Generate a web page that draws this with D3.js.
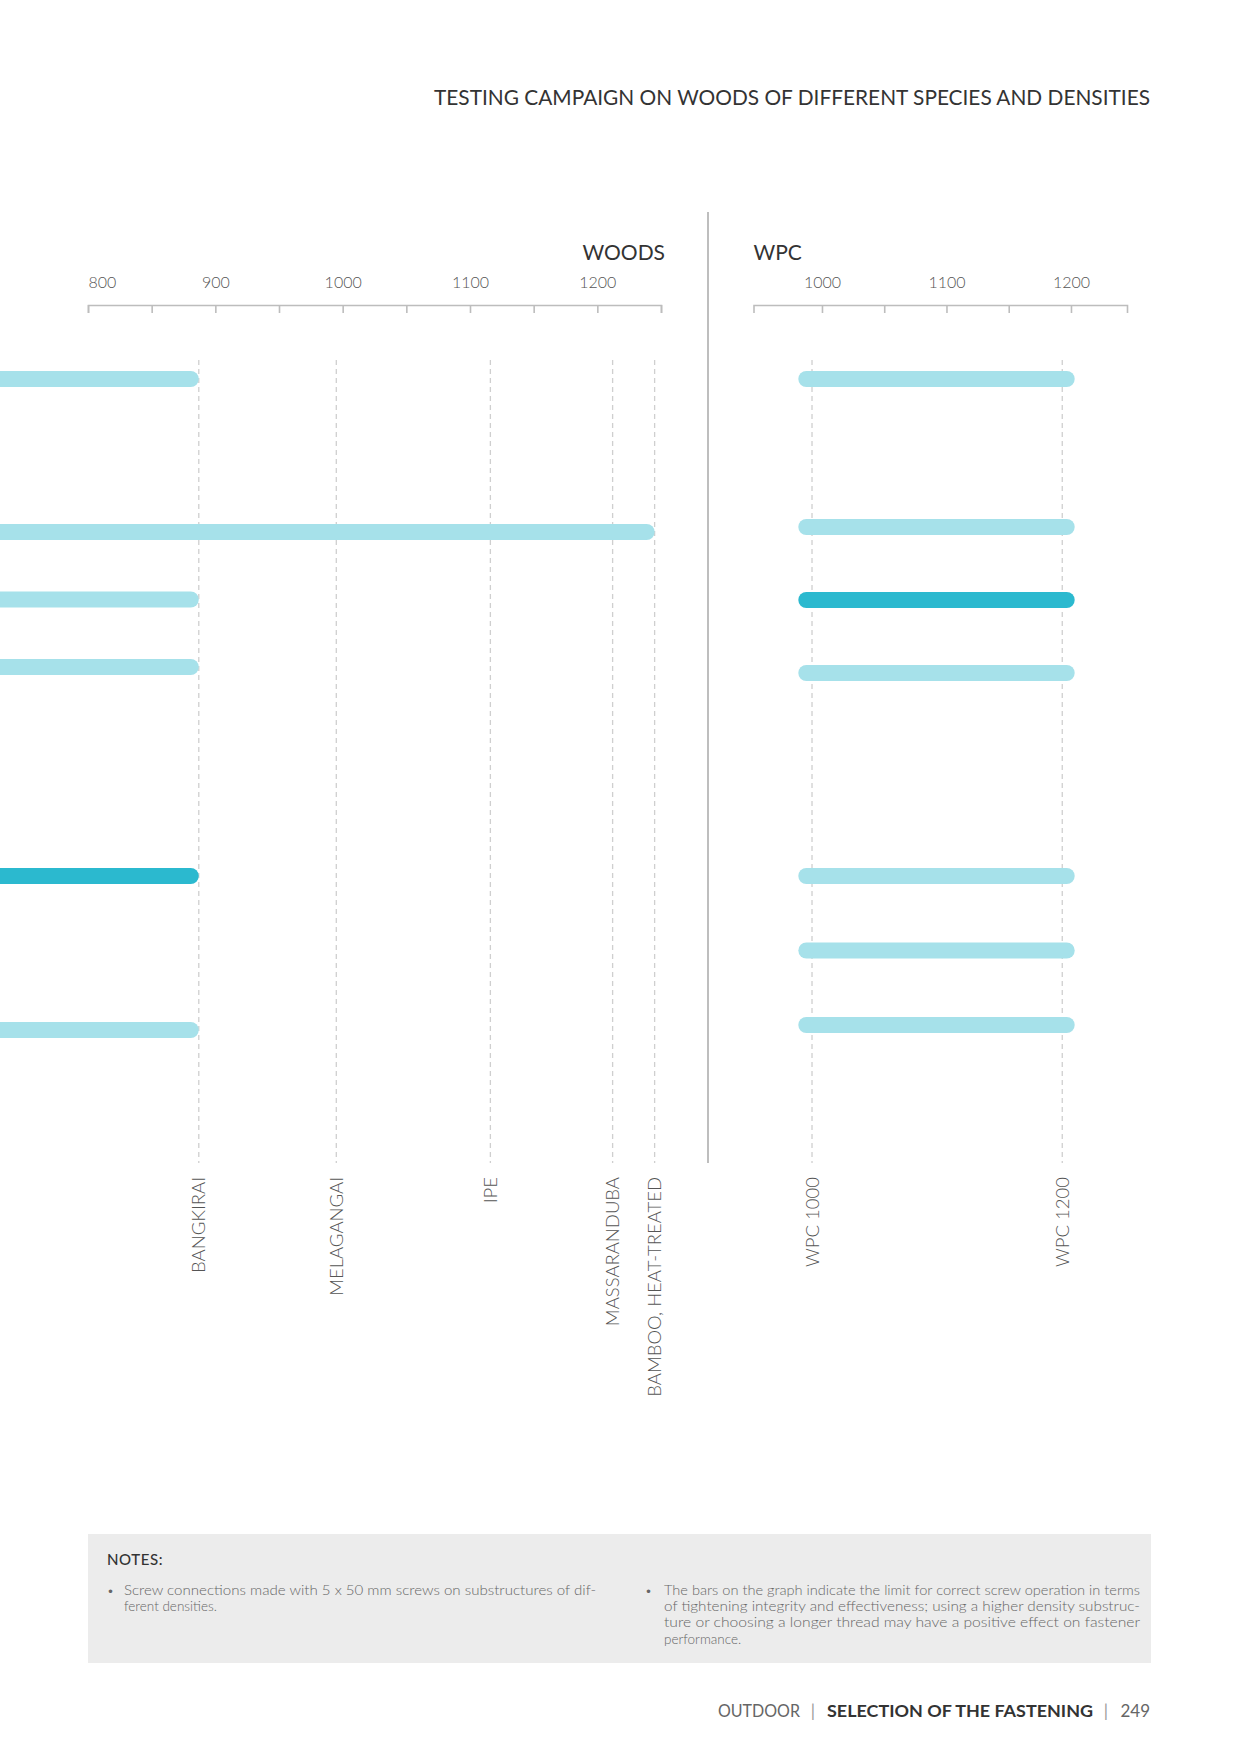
<!DOCTYPE html>
<html>
<head>
<meta charset="utf-8">
<script src="https://cdn.jsdelivr.net/npm/d3@7"></script>
<style>
  html, body { margin: 0; padding: 0; background: #ffffff; }
  svg { display: block; }
  text { font-family: Lato, "Open Sans", sans-serif; }
</style>
</head>
<body>
<svg id="chart" width="1240" height="1754"></svg>
<script>
// ---------------- DATA ----------------
const titleText = "TESTING CAMPAIGN ON WOODS OF DIFFERENT SPECIES AND DENSITIES";

// Woods panel
const woodsTicks = [800, 850, 900, 950, 1000, 1050, 1100, 1150, 1200, 1250];
const woodsTickLabels = [800, 900, 1000, 1100, 1200];
const woodSpecies = ["BANGKIRAI", "MELAGANGAI", "IPE", "MASSARANDUBA", "BAMBOO, HEAT-TREATED"];
const woodDensity = [887, 995, 1116, 1212, 1245];
const woodsBarRow = [0, 2, 3, 4, 7, 9];
const woodsBarStart = [700, 700, 700, 700, 700, 700];   // starts beyond the left page edge
const woodsBarEnd = [887, 1245, 887, 887, 887, 887];
const woodsBarHighlight = [false, false, false, false, true, false];

// WPC panel
const wpcTicks = [1000, 1050, 1100, 1150, 1200];
const wpcTickLabels = [1000, 1100, 1200];
const wpcTypes = ["WPC 1000", "WPC 1200"];
const wpcDensity = [992, 1193];
const wpcBarRow = [0, 2, 3, 4, 7, 8, 9];
const wpcBarStart = [981, 981, 981, 981, 981, 981, 981];
const wpcBarEnd = [1203, 1203, 1203, 1203, 1203, 1203, 1203];
const wpcBarHighlight = [false, false, true, false, false, false, false];

// Notes / footer
const notesTitle = "NOTES:";
const note1Lines = ["Screw connections made with 5 x 50 mm screws on substructures of dif-", "ferent densities."];
const note2Lines = [
  "The bars on the graph indicate the limit for correct screw operation in terms",
  "of tightening integrity and effectiveness; using a higher density substruc-",
  "ture or choosing a longer thread may have a positive effect on fastener",
  "performance."
];
const footerParts = ["OUTDOOR", "SELECTION OF THE FASTENING", "249"];

// ---------------- LAYOUT ----------------
const svg = d3.select("#chart");
const COL_LIGHT = "#a6e1ea", COL_DARK = "#2bb9cf";
const AXIS_COL = "#bdbdbd", GRID_COL = "#cfcfcf";

const xW = d3.scaleLinear().domain([800, 1250]).range([88, 661]);
const xP = d3.scaleLinear().domain([945, 1245]).range([753.5, 1127]);
const yW = d3.scaleLinear().domain([0, 2, 4, 7, 9]).range([379, 532, 667, 876, 1030]);
const yP = d3.scaleLinear().domain([0, 2, 4, 7, 9]).range([379, 527, 673, 876, 1025]);
const gridTop = 360, gridBottom = 1163, axisY = 305, barH = 16;

// Title
svg.append("text")
  .attr("x", 1150).attr("y", 105)
  .attr("text-anchor", "end")
  .attr("font-size", 21).attr("fill", "#333")
  .attr("textLength", 716).attr("lengthAdjust", "spacingAndGlyphs")
  .text(titleText);

// Separator
svg.append("line")
  .attr("x1", 708).attr("x2", 708).attr("y1", 212).attr("y2", 1163)
  .attr("stroke", "#a8a8a8").attr("stroke-width", 1.5);

// Panel headers
svg.append("text").attr("x", 665).attr("y", 260)
  .attr("text-anchor", "end").attr("font-size", 21).attr("fill", "#333").text("WOODS");
svg.append("text").attr("x", xP.range()[0]).attr("y", 260)
  .attr("text-anchor", "start").attr("font-size", 21).attr("fill", "#333").text("WPC");

function styleAxis(g) {
  g.select(".domain").attr("stroke", AXIS_COL).attr("stroke-width", 1.6);
  g.selectAll(".tick line").attr("stroke", AXIS_COL).attr("stroke-width", 1.6);
  g.selectAll(".tick text").attr("fill", "#555").attr("font-size", 16)
    .attr("font-family", "Lato, 'Open Sans', sans-serif").attr("font-weight", 300);
}

// Woods axis
const gW = svg.append("g").attr("transform", `translate(0,${axisY})`)
  .call(d3.axisTop(xW).tickValues(woodsTicks).tickSize(-8).tickPadding(17)
    .tickFormat(d => woodsTickLabels.includes(d) ? d : ""));
styleAxis(gW);
gW.selectAll(".tick text").filter(d => d === woodsTicks[0]).attr("text-anchor", "start");

// WPC axis
const gP = svg.append("g").attr("transform", `translate(0,${axisY})`)
  .call(d3.axisTop(xP).tickValues(wpcTicks).tickSize(-8).tickPadding(17)
    .tickFormat(d => wpcTickLabels.includes(d) ? d : ""));
styleAxis(gP);

// Dashed reference lines + rotated labels
function refLines(names, values, scale) {
  const g = svg.append("g");
  g.selectAll("line").data(values).join("line")
    .attr("x1", d => scale(d)).attr("x2", d => scale(d))
    .attr("y1", gridTop).attr("y2", gridBottom)
    .attr("stroke", GRID_COL).attr("stroke-width", 1.3).attr("stroke-dasharray", "5,4");
  g.selectAll("text").data(names).join("text")
    .attr("transform", (d, i) => `translate(${scale(values[i])},1177) rotate(-90)`)
    .attr("text-anchor", "end").attr("dy", "0.36em")
    .attr("font-size", 18.5).attr("font-weight", 300).attr("fill", "#555")
    .text(d => d);
}
refLines(woodSpecies, woodDensity, xW);
refLines(wpcTypes, wpcDensity, xP);

// Bars
function bars(rows, starts, ends, hi, scale, yScale) {
  svg.append("g").selectAll("rect").data(rows).join("rect")
    .attr("x", (d, i) => scale(starts[i]))
    .attr("width", (d, i) => scale(ends[i]) - scale(starts[i]))
    .attr("y", d => yScale(d) - barH / 2)
    .attr("height", barH)
    .attr("rx", barH / 2).attr("ry", barH / 2)
    .attr("fill", (d, i) => hi[i] ? COL_DARK : COL_LIGHT);
}
bars(woodsBarRow, woodsBarStart, woodsBarEnd, woodsBarHighlight, xW, yW);
bars(wpcBarRow, wpcBarStart, wpcBarEnd, wpcBarHighlight, xP, yP);

// Notes box
svg.append("rect").attr("x", 88).attr("y", 1534).attr("width", 1063).attr("height", 129).attr("fill", "#ececec");
svg.append("text").attr("x", 107).attr("y", 1565)
  .attr("font-family", "Roboto, sans-serif").attr("font-weight", 500)
  .attr("font-size", 15).attr("letter-spacing", 0.6).attr("fill", "#333").text(notesTitle);

function noteBlock(lines, bulletX, textX, width) {
  const g = svg.append("g").attr("font-family", "Roboto, sans-serif").attr("font-weight", 300)
    .attr("font-size", 13.5).attr("fill", "#666");
  g.append("text").attr("x", bulletX).attr("y", 1595).attr("font-size", 12).text("•");
  const sel = g.selectAll("text.l").data(lines).join("text").attr("class", "l")
    .attr("x", textX).attr("y", (d, i) => 1595 + i * 16.2)
    .text(d => d);
  // justified lines: squeeze to column width (condensed look); last line uses same ratio
  const first = sel.nodes()[0];
  const ratio = width / first.getComputedTextLength();
  sel.each(function (d, i) {
    const n = this.getComputedTextLength();
    const target = i < lines.length - 1 ? width : n * Math.min(1, ratio);
    d3.select(this).attr("textLength", target).attr("lengthAdjust", "spacingAndGlyphs");
  });
}
noteBlock(note1Lines, 107, 124, 472);
noteBlock(note2Lines, 645, 664, 476);

// Footer
const fy = 1717;
svg.append("text").attr("x", 718).attr("y", fy).attr("font-family", "Roboto, sans-serif")
  .attr("font-size", 17).attr("fill", "#666").attr("textLength", 82).attr("lengthAdjust", "spacingAndGlyphs")
  .text(footerParts[0]);
svg.append("text").attr("x", 813).attr("y", fy).attr("text-anchor", "middle").attr("font-family", "Roboto, sans-serif")
  .attr("font-size", 17).attr("fill", "#999").text("|");
svg.append("text").attr("x", 827).attr("y", fy).attr("font-family", "Roboto, sans-serif").attr("font-weight", 700)
  .attr("font-size", 17).attr("fill", "#333").attr("textLength", 266).attr("lengthAdjust", "spacingAndGlyphs")
  .text(footerParts[1]);
svg.append("text").attr("x", 1106).attr("y", fy).attr("text-anchor", "middle").attr("font-family", "Roboto, sans-serif")
  .attr("font-size", 17).attr("fill", "#999").text("|");
svg.append("text").attr("x", 1150).attr("y", fy).attr("text-anchor", "end").attr("font-family", "Roboto, sans-serif")
  .attr("font-size", 17).attr("fill", "#666").text(footerParts[2]);
</script>
</body>
</html>
